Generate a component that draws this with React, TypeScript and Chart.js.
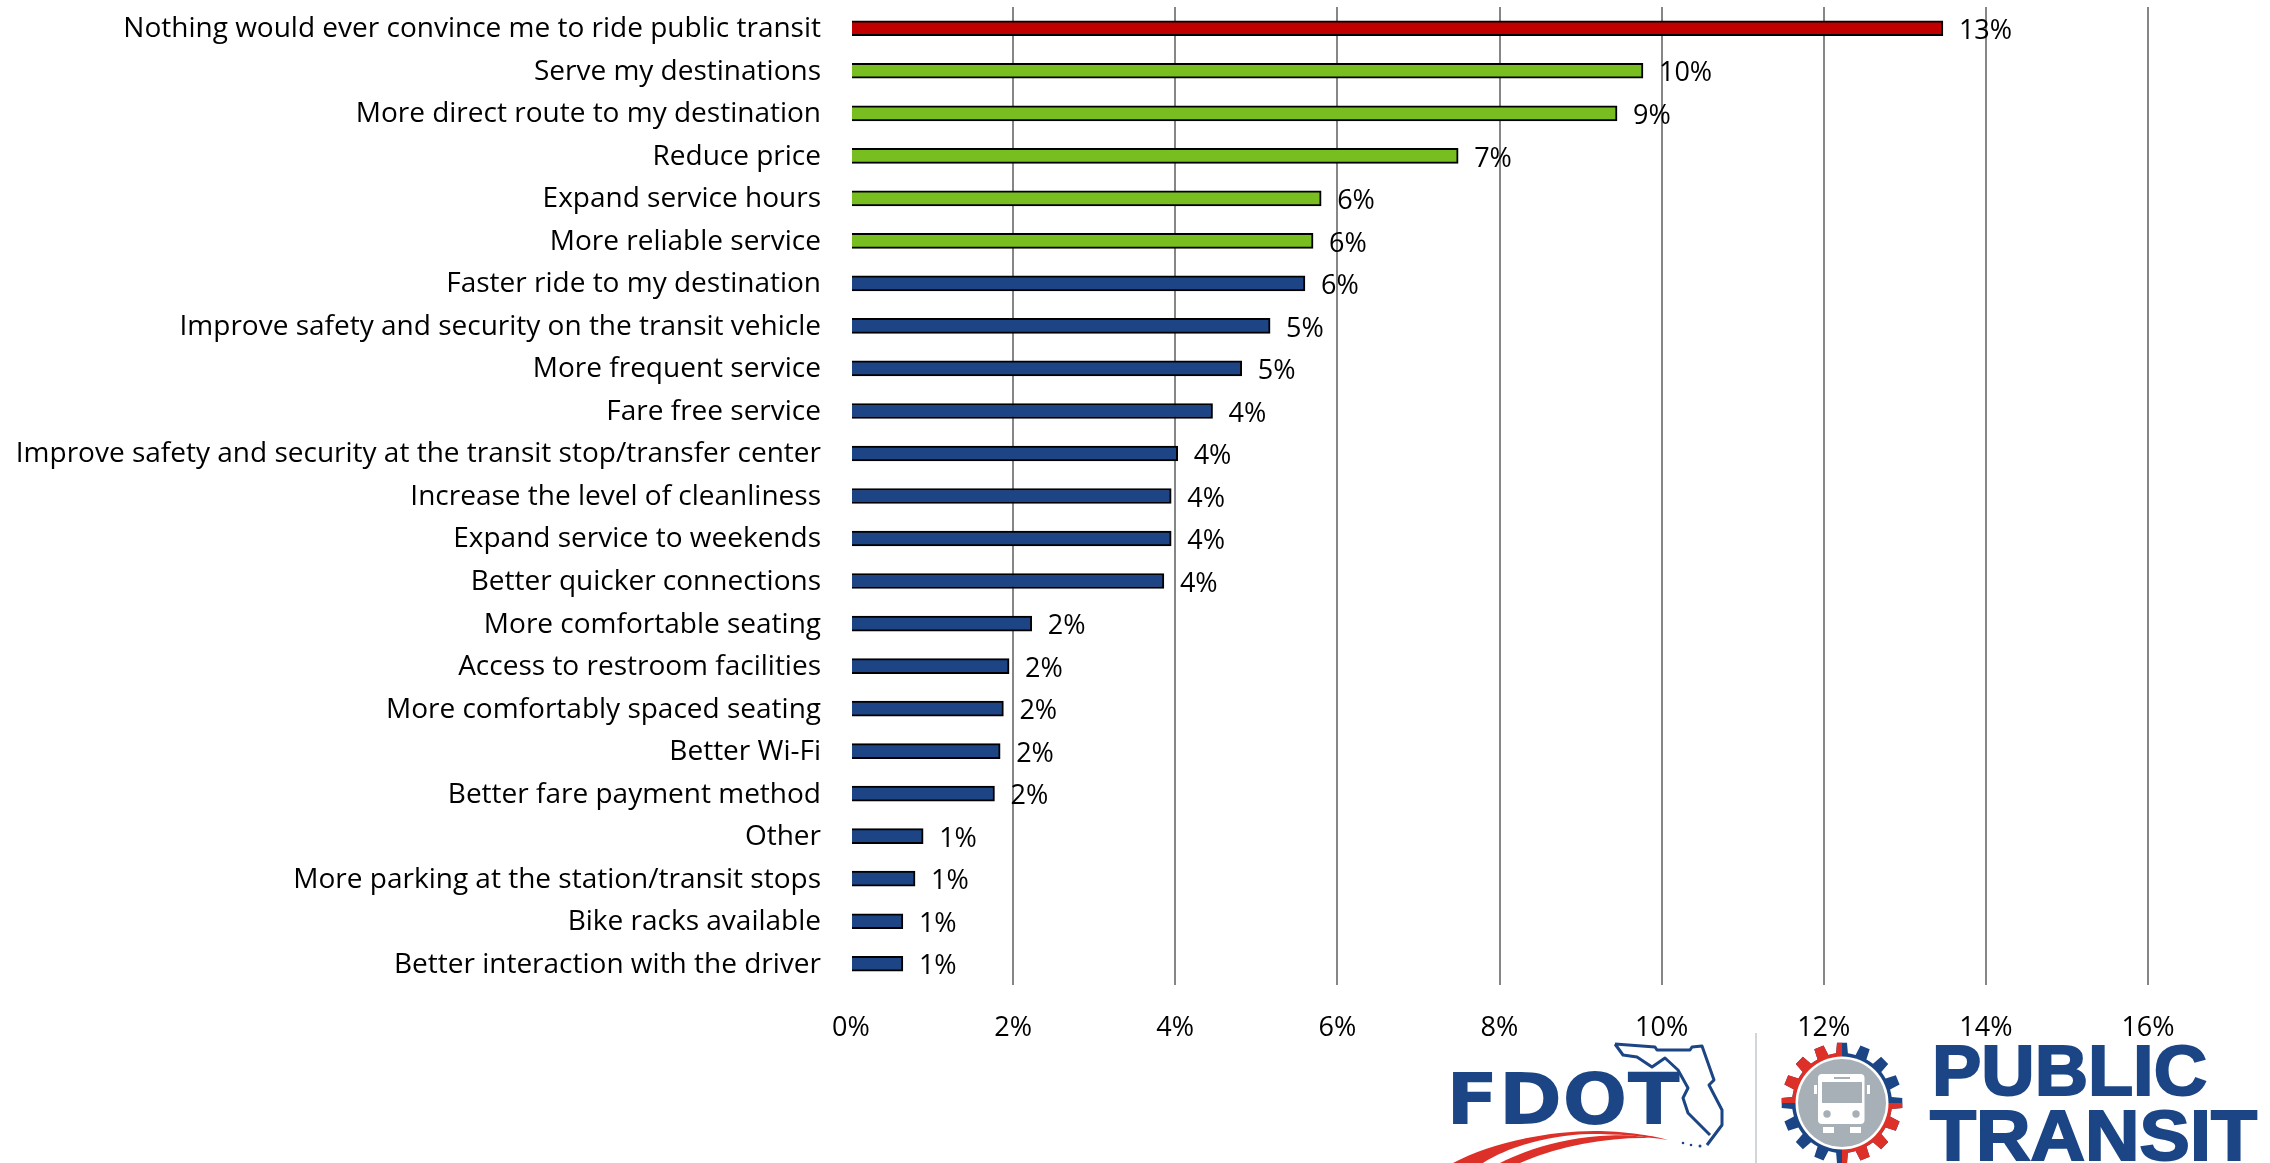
import React, { useEffect, useRef } from "react";
import { Chart, registerables } from "chart.js";

Chart.register(...registerables);

const categories = [
  "Nothing would ever convince me to ride public transit",
  "Serve my destinations",
  "More direct route to my destination",
  "Reduce price",
  "Expand service hours",
  "More reliable service",
  "Faster ride to my destination",
  "Improve safety and security on the transit vehicle",
  "More frequent service",
  "Fare free service",
  "Improve safety and security at the transit stop/transfer center",
  "Increase the level of cleanliness",
  "Expand service to weekends",
  "Better quicker connections",
  "More comfortable seating",
  "Access to restroom facilities",
  "More comfortably spaced seating",
  "Better Wi-Fi",
  "Better fare payment method",
  "Other",
  "More parking at the station/transit stops",
  "Bike racks available",
  "Better interaction with the driver",
];

const shares = [
  13.47, 9.77, 9.45, 7.49, 5.8, 5.7, 5.6, 5.17, 4.82, 4.46, 4.03, 3.95, 3.95,
  3.86, 2.23, 1.95, 1.88, 1.84, 1.77, 0.89, 0.79, 0.64, 0.64,
];

const RED = "#c00000";
const GREEN = "#78be20";
const BLUE = "#1d4586";
const redCount = 1;
const greenCount = 5;

const barColors = shares.map((_, i) =>
  i < redCount ? RED : i < redCount + greenCount ? GREEN : BLUE
);

const FONT = '"Open Sans", sans-serif';

// Value labels sit just past the end of each bar, above the gridlines.
const endLabels = {
  id: "endLabels",
  afterDatasetsDraw(chart: any) {
    const { ctx } = chart;
    const meta = chart.getDatasetMeta(0);
    ctx.save();
    ctx.font = `27px ${FONT}`;
    ctx.fillStyle = "#000";
    ctx.textAlign = "left";
    ctx.textBaseline = "middle";
    meta.data.forEach((bar: any, i: number) => {
      ctx.fillText(`${Math.round(shares[i])}%`, bar.x + 16, bar.y + 3);
    });
    ctx.restore();
  },
};

// Builds the toothed outline of the gear badge.
function gearPath(cx: number, cy: number, root: number, tip: number, teeth: number) {
  const pts: string[] = [];
  const step = (Math.PI * 2) / teeth;
  for (let i = 0; i < teeth; i++) {
    const a = i * step;
    const corners: [number, number][] = [
      [a - step * 0.5, root],
      [a - step * 0.3, root],
      [a - step * 0.21, tip],
      [a + step * 0.21, tip],
      [a + step * 0.3, root],
    ];
    corners.forEach(([ang, r]) => {
      pts.push(`${(cx + Math.cos(ang) * r).toFixed(1)},${(cy + Math.sin(ang) * r).toFixed(1)}`);
    });
  }
  return `M${pts.join("L")}Z`;
}

function Logos() {
  const navy = "#1b4585";
  const red = "#dd3029";
  const gray = "#a7b0b6";
  const gear = gearPath(1842, 1103, 50, 60.5, 16);
  return (
    <svg
      width={2270}
      height={1163}
      style={{ position: "absolute", left: 0, top: 0, pointerEvents: "none" }}
    >
      <defs>
        <clipPath id="gearRed">
          <rect x={1770} y={1030} width={72} height={73} />
          <rect x={1842} y={1103} width={72} height={73} />
        </clipPath>
      </defs>
      <text
        x={1446}
        y={1124}
        fontFamily='"DejaVu Sans", sans-serif'
        fontWeight={700}
        fontSize={72}
        fill={navy}
        textLength={234}
        lengthAdjust="spacingAndGlyphs"
      >
        FDOT
      </text>
      <path
        d="M1615 1044 L1655 1047 L1657 1050 L1690 1050 L1692 1047 L1702 1046 L1714 1080 L1709 1085 L1722 1110 L1722 1125 L1713 1137 L1707 1145 M1710 1135 L1688 1113 L1683 1098 L1688 1088 L1678 1070 L1665 1058 L1652 1067 L1637 1057 L1623 1055 L1615 1044"
        fill="none"
        stroke={navy}
        strokeWidth={3}
        strokeLinejoin="round"
      />
      <path
        d="M1453 1163 C1490 1143 1550 1130 1600 1131 C1630 1132 1655 1136 1668 1140 C1640 1136 1620 1134 1590 1134 C1550 1135 1510 1146 1483 1163 Z"
        fill={red}
      />
      <path
        d="M1500 1163 C1525 1150 1560 1139 1600 1136 C1625 1134 1640 1136 1650 1138 C1610 1137 1560 1145 1520 1163 Z"
        fill={red}
      />
      <circle cx={1683} cy={1143} r={1.3} fill={navy} />
      <circle cx={1691} cy={1145} r={1.3} fill={navy} />
      <circle cx={1700} cy={1146} r={1.5} fill={navy} />
      <line x1={1756} y1={1033} x2={1756} y2={1163} stroke="#c4c9cc" strokeWidth={1.5} />
      <path d={gear} fill={navy} />
      <path d={gear} fill={red} clipPath="url(#gearRed)" />
      <circle cx={1842} cy={1103} r={46.5} fill="#fff" />
      <circle cx={1842} cy={1103} r={44} fill={gray} />
      <rect x={1818} y={1074} width={46.5} height={50} rx={4} fill="#fff" />
      <rect x={1822} y={1082} width={40} height={21} fill={gray} />
      <rect x={1834} y={1077} width={16} height={2} fill={gray} />
      <circle cx={1827} cy={1114} r={3.7} fill={gray} />
      <circle cx={1856} cy={1114} r={3.7} fill={gray} />
      <rect x={1823} y={1127} width={11} height={6} fill="#fff" />
      <rect x={1850} y={1127} width={11} height={6} fill="#fff" />
      <rect x={1814} y={1085} width={3} height={9} fill="#fff" />
      <rect x={1867} y={1085} width={3} height={9} fill="#fff" />
      <text
        x={1932}
        y={1095}
        fontFamily='"Liberation Sans", sans-serif'
        fontWeight={700}
        fontSize={71}
        fill={navy}
        stroke={navy}
        strokeWidth={2}
        textLength={275}
        lengthAdjust="spacingAndGlyphs"
      >
        PUBLIC
      </text>
      <text
        x={1930}
        y={1160}
        fontFamily='"Liberation Sans", sans-serif'
        fontWeight={700}
        fontSize={71}
        fill={navy}
        stroke={navy}
        strokeWidth={2}
        textLength={327}
        lengthAdjust="spacingAndGlyphs"
      >
        TRANSIT
      </text>
    </svg>
  );
}

export default function App() {
  const canvasRef = useRef<HTMLCanvasElement | null>(null);

  useEffect(() => {
    document.body.style.margin = "0";
    document.body.style.background = "#fff";
    const chart = new Chart(canvasRef.current!, {
      type: "bar",
      data: {
        labels: categories,
        datasets: [
          {
            data: shares,
            backgroundColor: barColors,
            borderColor: "#000",
            borderWidth: 2,
            barThickness: 15,
          },
        ],
      },
      options: {
        indexAxis: "y",
        responsive: false,
        animation: false,
        layout: { padding: { top: 7, right: 122, left: 0, bottom: 0 } },
        plugins: { legend: { display: false }, tooltip: { enabled: false } },
        scales: {
          x: {
            type: "linear",
            min: 0,
            max: 16,
            border: { display: false },
            grid: {
              drawTicks: false,
              lineWidth: 2,
              color: (c: any) => (c.tick && c.tick.value === 0 ? "transparent" : "#868686"),
            },
            ticks: {
              stepSize: 2,
              padding: 27,
              color: "#000",
              font: { family: FONT, size: 27 },
              maxRotation: 0,
              callback: (v: any) => `${v}%`,
            },
            afterFit: (s: any) => {
              s.height = 178;
              s.paddingLeft = 0;
              s.paddingRight = 0;
            },
          },
          y: {
            type: "category",
            border: { display: false },
            grid: { display: false, drawTicks: false },
            ticks: {
              padding: 30,
              labelOffset: 1,
              color: "#000",
              autoSkip: false,
              font: { family: FONT, size: 28 },
            },
            afterFit: (s: any) => {
              s.width = 851;
              s.paddingTop = 0;
              s.paddingBottom = 0;
            },
          },
        },
      },
      plugins: [endLabels],
    } as any);
    return () => chart.destroy();
  }, []);

  return (
    <div style={{ position: "relative", width: 2270, height: 1163 }}>
      <canvas ref={canvasRef} width={2270} height={1163} style={{ display: "block" }} />
      <Logos />
    </div>
  );
}
